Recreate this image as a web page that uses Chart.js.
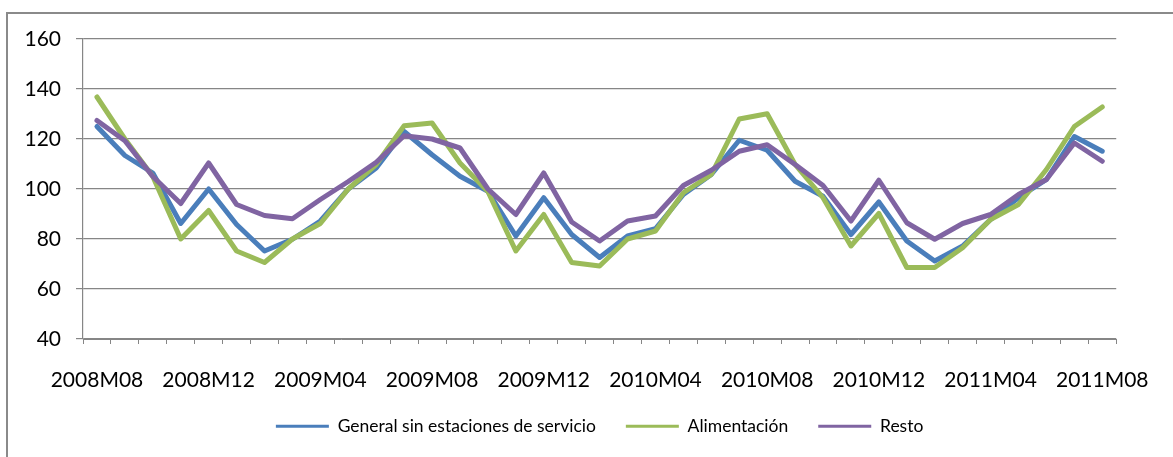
<!DOCTYPE html>
<html lang="es">
<head>
  <meta charset="UTF-8">
  <title>Índices: general, alimentación y resto</title>
  <script src="https://cdn.jsdelivr.net/npm/chart.js"></script>
  <style>
    body { margin: 0; padding: 0; background: #fff; }
    #wrap { position: relative; width: 1173px; height: 457px; }
  </style>
</head>
<body>
  <div id="wrap"><canvas id="chart" width="1173" height="457"></canvas></div>

  <script>
    // Months, 2008M08 .. 2011M08
    const months = [
      '2008M08','2008M09','2008M10','2008M11','2008M12',
      '2009M01','2009M02','2009M03','2009M04','2009M05','2009M06','2009M07','2009M08','2009M09','2009M10','2009M11','2009M12',
      '2010M01','2010M02','2010M03','2010M04','2010M05','2010M06','2010M07','2010M08','2010M09','2010M10','2010M11','2010M12',
      '2011M01','2011M02','2011M03','2011M04','2011M05','2011M06','2011M07','2011M08'
    ];

    // Series
    const general = [125, 113.4, 106.4, 86.2, 100, 85.8, 75.2, 79.9, 87.2, 100, 108.4, 123, 113.7, 105.1, 99.1, 81.2, 96.5,
      81.8, 72.6, 81.2, 84.1, 97.8, 105.8, 119.5, 115.5, 103.1, 97.1, 81.8, 94.8, 79.2, 71.2, 77.2, 87.8, 96.5, 103.8, 121, 115.1];
    const alimentacion = [136.8, 120, 105, 80, 91.4, 75.2, 70.6, 80, 86.2, 100, 109.8, 125.3, 126.4, 110.4, 99, 75.2, 89.8,
      70.6, 69.2, 80, 83.2, 98.5, 105.8, 128, 130.1, 109.8, 96.5, 77.2, 90.2, 68.6, 68.6, 76.5, 87.8, 93.8, 107.8, 125, 132.8];
    const resto = [127.4, 119.3, 105, 94.2, 110.4, 93.8, 89.4, 88.1, 95.8, 103, 110.7, 121.3, 120, 116.4, 100, 89.8, 106.4,
      86.8, 79.2, 87.2, 89.2, 101.4, 107.5, 115.1, 117.7, 109.8, 101.4, 87.2, 103.5, 86.5, 79.9, 86.2, 89.8, 97.8, 103.8, 118.4, 111.1];

    const seriesNames = ['General sin estaciones de servicio', 'Alimentación', 'Resto'];
    const yMin = 40, yMax = 160, yStep = 20;

    const gridGray = '#868686';
    const font = 'Lato, "Liberation Sans", sans-serif';

    // outer frame of the chart area (left and top edges are visible)
    const framePlugin = {
      id: 'frame',
      afterDraw(chart) {
        const ctx = chart.ctx;
        ctx.save();
        ctx.strokeStyle = '#8a8a8a';
        ctx.lineWidth = 2;
        ctx.beginPath();
        ctx.moveTo(7, 457);
        ctx.lineTo(7, 13);
        ctx.lineTo(1173, 13);
        ctx.stroke();
        ctx.restore();
      }
    };

    function makeSet(label, data, color, order) {
      return {
        label: label,
        data: data,
        borderColor: color,
        backgroundColor: color,
        borderWidth: 5,
        pointRadius: 0,
        pointHoverRadius: 0,
        pointStyle: 'line',
        tension: 0,
        borderJoinStyle: 'round',
        borderCapStyle: 'round',
        order: order
      };
    }

    new Chart(document.getElementById('chart'), {
      type: 'line',
      data: {
        labels: months,
        datasets: [
          makeSet(seriesNames[0], general, '#4A7EBB', 3),
          makeSet(seriesNames[1], alimentacion, '#9BBB59', 2),
          makeSet(seriesNames[2], resto, '#8064A2', 1)
        ]
      },
      options: {
        responsive: false,
        animation: false,
        layout: { padding: { top: 39, right: 33, left: 12, bottom: 12 } },
        plugins: {
          tooltip: { enabled: false },
          legend: {
            display: true,
            position: 'bottom',
            fullSize: false,
            labels: {
              usePointStyle: true,
              pointStyleWidth: 53,
              boxHeight: 16,
              padding: 30,
              color: '#000',
              font: { family: font, size: 17.5 },
              sort: (a, b) => a.datasetIndex - b.datasetIndex,
              generateLabels(chart) {
                const items = Chart.defaults.plugins.legend.labels.generateLabels(chart);
                items.forEach(it => { it.lineWidth = 3; });
                return items;
              }
            }
          }
        },
        scales: {
          x: {
            offset: true,
            grid: { offset: true, drawOnChartArea: false, drawTicks: true, tickLength: 5, color: gridGray },
            border: { display: true, color: gridGray, width: 1 },
            ticks: {
              autoSkip: false,
              maxRotation: 0,
              padding: 24,
              color: '#000',
              font: { family: font, size: 21 },
              callback: function (value, index) {
                return index % 4 === 0 ? months[index] : '';
              }
            },
            afterFit(scale) { scale.height = 48.5; }
          },
          y: {
            min: yMin,
            max: yMax,
            grid: { color: gridGray, lineWidth: 1.2, drawTicks: true, tickLength: 7 },
            border: { display: true, color: gridGray, width: 1.2 },
            ticks: {
              stepSize: yStep,
              padding: 15,
              color: '#000',
              font: { family: font, size: 21 }
            },
            afterFit(scale) { scale.width = 71; }
          }
        }
      },
      plugins: [framePlugin]
    });
  </script>
</body>
</html>
